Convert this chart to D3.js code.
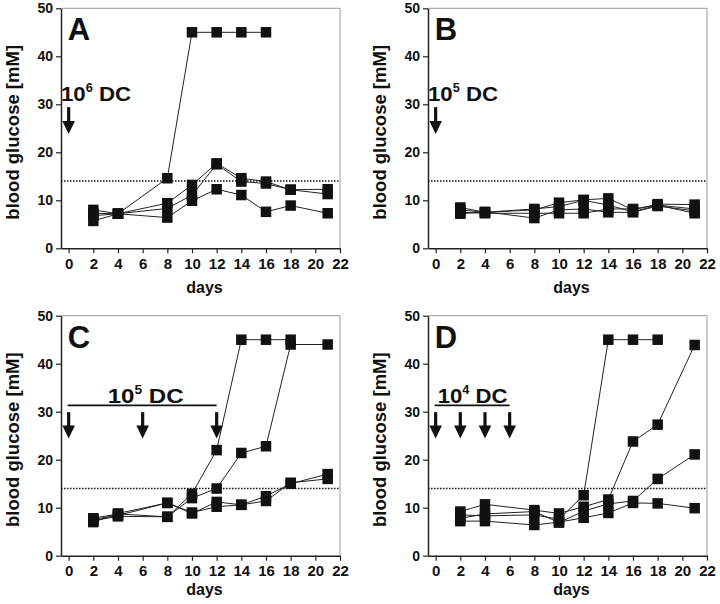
<!DOCTYPE html>
<html><head><meta charset="utf-8">
<script src="https://cdn.jsdelivr.net/npm/d3@7/dist/d3.min.js"></script>
<style>
body{margin:0;background:#fff}
svg{display:block}
text{font-family:"Liberation Sans",Arial,Helvetica,sans-serif;font-weight:bold;fill:#111}
</style>
</head><body>
<svg id="chart" width="720" height="604"></svg>
<script>
// ---- data ----
const days = [2, 4, 8, 10, 12, 14, 16, 18, 21];
const xTickValues = [0, 2, 4, 6, 8, 10, 12, 14, 16, 18, 20, 22];
const yTickValues = [0, 10, 20, 30, 40, 50];
const threshold = 14;
const panelLetters = ["A", "B", "C", "D"];
const doseBase = ["10", "10", "10", "10"];
const doseExp = ["6", "5", "5", "4"];
const injectionDaysA = [0];
const injectionDaysB = [0];
const injectionDaysC = [0, 6, 12];
const injectionDaysD = [0, 2, 4, 6];

const seriesA = [
  [8.0, 7.2, 14.6, 45, 45, 45, 45, null, null],
  [7.3, 7.2, 9.4, 13.2, 17.7, 14.6, 13.9, 12.2, 11.3],
  [6.8, 7.2, 8.3, 11.1, 17.5, 13.9, 13.5, 12.2, 12.3],
  [5.7, 7.2, 6.4, 9.9, 12.3, 11.1, 7.6, 8.9, 7.3]
];
const seriesB = [
  [8.5, 7.5, 8.0, 9.5, 10.1, 10.4, 8.0, 9.2, 9.1],
  [8.0, 7.5, 8.2, 8.7, 10.0, 9.0, 7.6, 9.0, 8.2],
  [7.5, 7.3, 7.3, 7.3, 7.3, 8.2, 8.2, 9.0, 7.3],
  [7.2, 7.6, 6.3, 8.0, 8.2, 7.5, 7.5, 8.8, 7.8]
];
const seriesC = [
  [7.8, 8.7, 8.1, 12.9, 22.0, 45, 45, 45, null],
  [7.3, 8.2, 8.1, 12.0, 14.0, 21.4, 22.8, 44, 44],
  [7.0, 8.8, 11.0, 9.0, 10.2, 10.6, 11.4, 15.2, 16.0],
  [7.6, 8.4, 11.0, 8.8, 11.2, 10.6, 12.4, 15.0, 17.0]
];
const seriesD = [
  [8.5, 8.3, 8.5, 7.6, 12.6, 45, 45, 45, null],
  [9.2, 10.7, 9.5, 8.8, 10.2, 11.7, 23.8, 27.3, 43.9],
  [7.8, 8.7, 9.2, 6.9, 9.3, 10.8, 11.4, 16.0, 21.1],
  [7.2, 7.2, 6.4, 7.0, 7.9, 8.9, 11.0, 10.9, 9.9]
];

// ---- layout ----
const panels = [
  {series: seriesA, inj: injectionDaysA, ox: 0,   oy: 0,     bar: false, tl: 70, dy: 45},
  {series: seriesB, inj: injectionDaysB, ox: 367, oy: 0,     bar: false, tl: 70, dy: 45},
  {series: seriesC, inj: injectionDaysC, ox: 0,   oy: 307.4, bar: true,  tl: 76, dy: 39},
  {series: seriesD, inj: injectionDaysD, ox: 367, oy: 307.4, bar: true,  tl: 70, dy: 39}
];

const svg = d3.select("#chart");

panels.forEach((p, i) => {
  const g = svg.append("g");
  const x = d3.scaleLinear().domain([-0.62, 22]).range([61 + p.ox, 340 + p.ox]);
  const y = d3.scaleLinear().domain([0, 50]).range([248.3 + p.oy, 8.3 + p.oy]);

  // light frame top/right
  g.append("path")
    .attr("d", `M${x(-0.62)},${y(50)}H${x(22)}V${y(0)}`)
    .attr("fill", "none").attr("stroke", "#9a9a9a").attr("stroke-width", 1);

  // axes
  const ax = g.append("g").attr("transform", `translate(0,${y(0)})`)
    .call(d3.axisBottom(x).tickValues(xTickValues).tickSize(5).tickSizeOuter(0).tickPadding(5).tickFormat(d3.format("d")));
  const ay = g.append("g").attr("transform", `translate(${x(-0.62)},0)`)
    .call(d3.axisLeft(y).tickValues(yTickValues).tickSize(5).tickSizeOuter(0).tickPadding(3));
  [ax, ay].forEach((a, k) => {
    a.select(".domain").attr("stroke", "#222").attr("stroke-width", 1.5);
    a.selectAll(".tick line").attr("stroke", "#222").attr("stroke-width", 1.2);
    a.selectAll("text").attr("font-size", k === 0 ? 15 : 14).attr("font-family", '"Liberation Sans",Arial,sans-serif')
      .attr("font-weight", "bold").attr("fill", "#111");
  });

  // axis titles
  g.append("text").attr("x", (x(-0.62) + x(22)) / 2 + 4).attr("y", y(0) + p.dy)
    .attr("text-anchor", "middle").attr("font-size", 16).text("days");
  g.append("text")
    .attr("transform", `translate(${19 + p.ox},${(y(0) + y(50)) / 2 + 4}) rotate(-90)`)
    .attr("text-anchor", "middle").attr("font-size", 18.5).text("blood glucose [mM]");

  // threshold line
  g.append("line").attr("x1", x(-0.62)).attr("x2", x(22))
    .attr("y1", y(threshold)).attr("y2", y(threshold))
    .attr("stroke", "#111").attr("stroke-width", 1.5).attr("stroke-dasharray", "1.5,1.5");

  // panel letter
  g.append("text").attr("x", x(0) - 1).attr("y", y(50) + 32).attr("font-size", 31).text(panelLetters[i]);

  // dose label + bar + arrows
  const first = p.inj[0], last = p.inj[p.inj.length - 1];
  const t = g.append("text").attr("font-size", 21)
    .attr("textLength", p.tl).attr("lengthAdjust", "spacingAndGlyphs");
  if (p.bar) {
    g.append("line").attr("x1", x(first) - 1).attr("x2", x(last))
      .attr("y1", y(31.3)).attr("y2", y(31.3)).attr("stroke", "#111").attr("stroke-width", 1.8);
    const mid = (x(first) + x(last)) / 2 + (i === 2 ? 3 : 0);
    t.attr("x", mid - p.tl / 2).attr("y", y(31.9));
  } else {
    t.attr("x", x(-0.62)).attr("y", y(30.6));
  }
  t.append("tspan").text(doseBase[i]);
  t.append("tspan").attr("font-size", 12).attr("dy", -9).text(doseExp[i]);
  t.append("tspan").attr("dy", 9).text(" DC");

  const top = p.bar ? 29.9 : 29.4, tip = p.bar ? 24.4 : 23.8;
  p.inj.forEach(d => {
    const cx = x(d), y0 = y(top), y1 = y(tip);
    g.append("line").attr("x1", cx).attr("x2", cx).attr("y1", y0).attr("y2", y1 - 9)
      .attr("stroke", "#111").attr("stroke-width", 3.2);
    g.append("path").attr("d", `M${cx - 6.3},${y1 - 13}L${cx + 6.3},${y1 - 13}L${cx},${y1}Z`).attr("fill", "#111");
  });

  // data lines
  const line = d3.line().defined(d => d[1] != null).x(d => x(d[0])).y(d => y(d[1]));
  p.series.forEach(s => {
    g.append("path").datum(days.map((d, k) => [d, s[k]]))
      .attr("d", line).attr("fill", "none").attr("stroke", "#222").attr("stroke-width", 1);
  });
  p.series.forEach(s => {
    g.selectAll(null).data(days.map((d, k) => [d, s[k]]).filter(d => d[1] != null))
      .enter().append("rect")
      .attr("x", d => x(d[0]) - 5.25).attr("y", d => y(d[1]) - 5.25)
      .attr("width", 10.5).attr("height", 10.5).attr("fill", "#111");
  });
});
</script>
</body></html>
